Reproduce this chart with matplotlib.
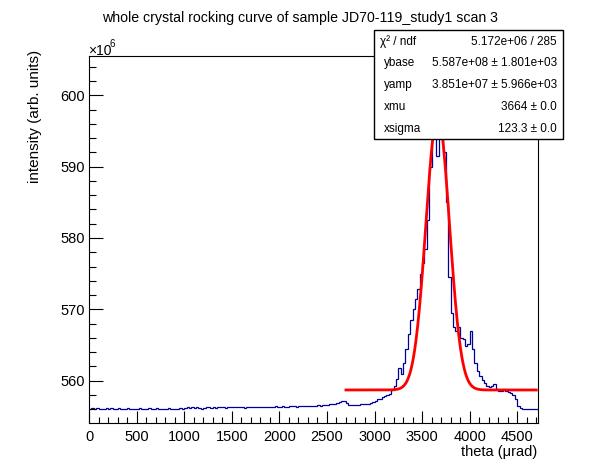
import numpy as np
import matplotlib
matplotlib.use("Agg")
import matplotlib.pyplot as plt
from matplotlib.ticker import MultipleLocator
from matplotlib.patches import Rectangle

plt.rcParams['font.family'] = ['Liberation Sans', 'DejaVu Sans']

# ---------------- data (intensity in units of 1e6) ----------------
bin_width = 25.0
theta_start = 0.0

seg_0000 = [556.1, 556.15, 556.1, 556.2, 556.1, 556.1, 556.05, 556.15, 556.1, 556.2,
            556.1, 556.1, 556.15, 556.05, 556.1, 556.1, 556.2, 556.1, 556.05, 556.1]
seg_0500 = [556.1, 556.15, 556.1, 556.05, 556.1, 556.2, 556.1, 556.1, 556.15, 556.1,
            556.05, 556.1, 556.1, 556.2, 556.1, 556.1, 556.05, 556.1, 556.15, 556.1]
seg_1000 = [556.2, 556.25, 556.2, 556.3, 556.2, 556.25, 556.2, 556.1, 556.2, 556.25,
            556.3, 556.2, 556.25, 556.2, 556.3, 556.25, 556.3, 556.2, 556.25, 556.3]
seg_1500 = [556.3, 556.25, 556.3, 556.35, 556.3, 556.2, 556.3, 556.35, 556.3, 556.3,
            556.25, 556.3, 556.35, 556.3, 556.3, 556.35, 556.3, 556.3, 556.4, 556.3]
seg_2000 = [556.35, 556.4, 556.35, 556.3, 556.4, 556.45, 556.4, 556.35, 556.4, 556.5,
            556.45, 556.4, 556.45, 556.5, 556.4, 556.5, 556.55, 556.5, 556.6, 556.55]
seg_2500 = [556.6, 556.7, 556.75, 556.8, 556.9, 557.0, 557.1, 557.2, 556.9, 556.6,
            556.55, 556.6, 556.6, 556.65, 556.7, 556.7, 556.75, 556.8, 556.9, 557.0]
seg_3000 = [557.2, 557.4, 557.5, 557.7, 557.9, 558.0, 558.2, 558.7, 559.3, 560.3,
            561.8, 561.0, 562.5, 564.5, 566.5, 568.5, 570.0, 571.5, 572.8, 575.0]
seg_3500 = [576.5, 578.5, 582.5, 590.0, 596.0, 598.0, 591.5, 597.0, 597.5, 592.0,
            585.0, 574.5, 569.5, 567.5, 566.9, 567.5, 566.0, 565.8, 564.9, 565.2]
seg_4000 = [567.0, 564.5, 562.5, 561.3, 560.7, 560.1, 559.7, 559.3, 559.1, 559.3,
            559.5, 558.8, 558.5, 558.6, 558.8, 558.6, 558.4, 558.3, 558.0, 557.5]
seg_4500 = [556.5, 556.2, 556.1, 556.05, 556.1, 556.0, 556.05, 556.0, 556.0]

intensity = np.array(seg_0000 + seg_0500 + seg_1000 + seg_1500 + seg_2000 +
                     seg_2500 + seg_3000 + seg_3500 + seg_4000 + seg_4500)

# fit parameters
fit_ybase = 558.7      # x1e6
fit_yamp = 38.51       # x1e6
fit_xmu = 3664.0
fit_xsigma = 123.3
fit_range = (2700.0, 4700.0)

stat_labels = ["χ² / ndf", "ybase", "yamp", "xmu", "xsigma"]
stat_values = ["5.172e+06 / 285", "5.587e+08 ± 1.801e+03", "3.851e+07 ± 5.966e+03",
               "3664 ± 0.0", "123.3 ± 0.0"]

title = "whole crystal rocking curve of sample JD70-119_study1 scan 3"
xlabel = "theta (μrad)"
ylabel = "intensity (arb. units)"

# ---------------- figure ----------------
W, H = 598, 474
fig = plt.figure(figsize=(W / 100, H / 100), dpi=100)
fig.patch.set_facecolor('white')

L, R, T, B = 89, 538, 56, 423.3
ax = fig.add_axes([L / W, 1 - B / H, (R - L) / W, (B - T) / H])

edges = theta_start + bin_width * np.arange(len(intensity) + 1)
ax.stairs(intensity, edges, color='#000099', lw=0.9, baseline=None)

xf = np.linspace(fit_range[0], fit_range[1], 500)
yf = fit_ybase + fit_yamp * np.exp(-0.5 * ((xf - fit_xmu) / fit_xsigma) ** 2)
ax.plot(xf, yf, color='red', lw=2.0)

ax.set_xlim(0, 4718)
ax.set_ylim(554.03, 605.5)

ax.xaxis.set_major_locator(MultipleLocator(500))
ax.xaxis.set_minor_locator(MultipleLocator(100))
ax.yaxis.set_major_locator(MultipleLocator(10))
ax.yaxis.set_minor_locator(MultipleLocator(2))
ax.tick_params(axis='both', which='both', direction='in', top=False, right=False,
               width=0.8, labelsize=10.5)
ax.tick_params(axis='x', which='major', length=8.6, pad=4.5)
ax.tick_params(axis='x', which='minor', length=4.3)
ax.tick_params(axis='y', which='major', length=10, pad=3)
ax.tick_params(axis='y', which='minor', length=5)
for s in ax.spines.values():
    s.set_linewidth(0.8)

# texts
fig.text(300 / W, 1 - 18 / H, title, ha='center', va='center', fontsize=10.2)
fig.text(537 / W, 1 - 452 / H, xlabel, ha='right', va='center', fontsize=10.5)
fig.text(35 / W, 1 - 50 / H, ylabel, ha='center', va='top', rotation=90, fontsize=11)
fig.text(88 / W, 1 - 55 / H, "×10", ha='left', va='baseline', fontsize=10)
fig.text(110 / W, 1 - 47 / H, "6", ha='left', va='baseline', fontsize=7)

# stat box
bx0, by0, bx1, by1 = 374, 30.3, 563, 139
fig.patches.append(Rectangle((bx0 / W, 1 - by1 / H), (bx1 - bx0) / W, (by1 - by0) / H,
                             transform=fig.transFigure, facecolor='white',
                             edgecolor='black', lw=1.0, zorder=10))
rowh = (by1 - by0) / len(stat_labels)
for k, (lab, val) in enumerate(zip(stat_labels, stat_values)):
    yc = by0 + rowh * (k + 0.5) + 0.5
    lx = 379.5 if k == 0 else 384
    fig.text(lx / W, 1 - yc / H, lab, ha='left', va='center', fontsize=8.5, zorder=11)
    fig.text(557 / W, 1 - yc / H, val, ha='right', va='center', fontsize=8.5, zorder=11)

fig.savefig("out.png", dpi=100)
